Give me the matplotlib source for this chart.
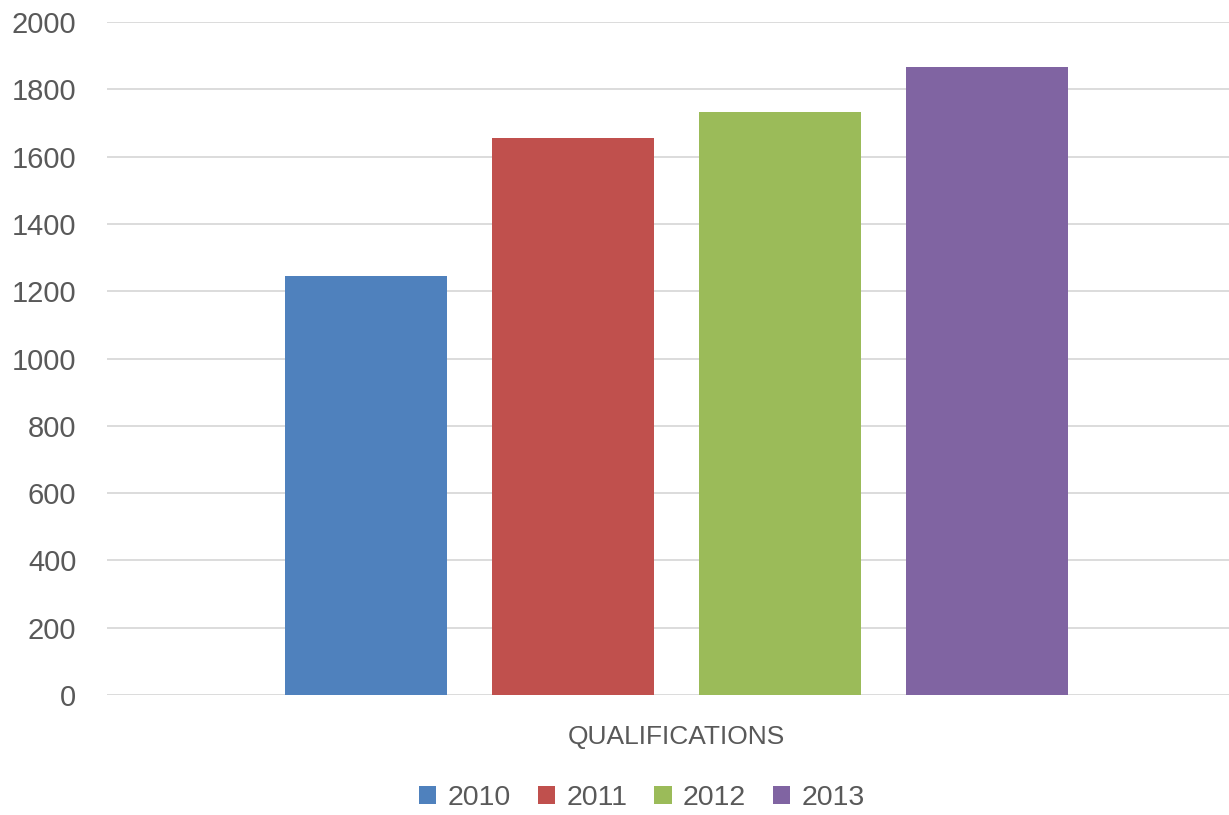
import matplotlib.pyplot as plt
from matplotlib.patches import Patch

years = ['2010', '2011', '2012', '2013']
values = [1244, 1656, 1732, 1865]
colors = ['#4f81bd', '#c0504d', '#9bbb59', '#8064a2']
category = 'QUALIFICATIONS'

plt.rcParams['font.family'] = ['Liberation Sans', 'DejaVu Sans']
grey = '#595959'

fig = plt.figure(figsize=(12.29, 8.15), dpi=100)
ax = fig.add_axes([107 / 1229, 120 / 815, 1122 / 1229, 673 / 815])

pos = list(range(len(years)))
ax.bar(pos, values, width=0.785, color=colors, zorder=3)

ax.set_xlim(-1.251, 4.169)
ax.set_ylim(0, 2000)
ax.set_yticks(range(0, 2001, 200))
ax.set_xticks([])
ax.grid(axis='y', color='#d9d9d9', linewidth=1.3, zorder=0)
ax.tick_params(axis='y', length=0, pad=22, labelsize=21, labelcolor=grey)
for s in ax.spines.values():
    s.set_visible(False)

ax.text(1.5, -0.063, category, transform=ax.get_xaxis_transform(),
        ha='center', va='center', fontsize=19, color=grey)

handles = [Patch(facecolor=c, label=y) for c, y in zip(colors, years)]
fig.legend(handles=handles, loc='center', bbox_to_anchor=(642 / 1229, 1 - 798 / 815),
           ncol=4, frameon=False, fontsize=20.5, labelcolor=grey,
           handlelength=0.6, handleheight=0.6, handletextpad=0.4, columnspacing=0.95)

fig.savefig('out.png', dpi=100)
